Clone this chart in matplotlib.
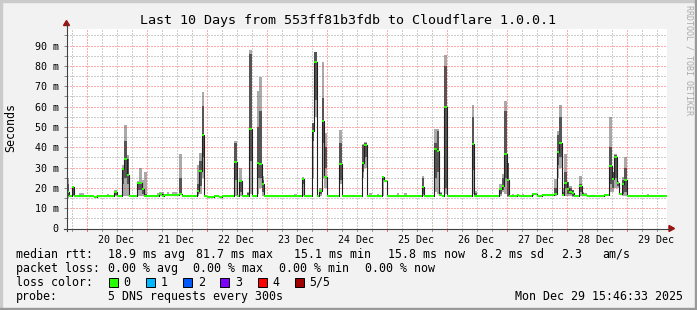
import numpy as np
import matplotlib
matplotlib.use("Agg")
import matplotlib.pyplot as plt
from matplotlib.lines import Line2D
from matplotlib.patches import Rectangle, Polygon
import matplotlib.transforms as mtransforms

# ---------------- data ----------------
title = "Last 10 Days from 553ff81b3fdb to Cloudflare 1.0.0.1"
# one value per hour, hour 0 = Dec 19 ~15:46, hour 8 = Dec 20 00:00
median_ms = [
    18.0, 16.0, 20.5, 16.0, 16.0, 16.1, 16.0, 15.9, 16.0, 16.0, 15.9, 15.4, 15.8, 16.0, 16.0, 16.0, 16.1, 16.0, 16.0, 18.0, 16.0, 16.0, 29.2, 34.0,
    26.2, 16.0, 16.0, 16.0, 22.6, 22.6, 19.5, 16.0, 16.0, 16.0, 16.0, 16.1, 16.0, 17.0, 16.0, 16.5, 16.5, 16.4, 16.5, 16.3, 16.5, 16.8, 16.0, 16.0,
    16.0, 16.0, 16.0, 16.0, 18.3, 28.3, 46.0, 15.8, 15.7, 15.7, 15.7, 15.8, 15.8, 15.7, 15.8, 15.8, 15.8, 15.8, 15.9, 32.8, 16.0, 23.3, 16.0, 16.0,
    16.0, 48.8, 16.0, 16.0, 32.3, 31.5, 21.8, 16.0, 16.0, 15.9, 15.8, 16.0, 15.9, 16.0, 16.0, 15.9, 16.0, 16.0, 16.0, 16.0, 16.0, 16.0, 24.2, 16.0,
    16.0, 16.0, 48.0, 82.0, 16.0, 18.3, 52.8, 25.4, 16.0, 16.0, 16.0, 16.0, 16.0, 31.6, 16.0, 16.0, 15.8, 15.8, 16.0, 16.0, 16.0, 16.0, 32.3, 41.3,
    16.0, 16.0, 16.0, 16.0, 16.0, 16.0, 25.4, 23.3, 16.0, 16.0, 16.0, 16.0, 16.0, 15.9, 16.0, 16.0, 16.0, 16.0, 16.0, 16.0, 16.0, 16.0, 20.2, 16.0,
    16.0, 16.0, 16.0, 39.3, 38.2, 16.7, 16.0, 59.7, 16.0, 16.0, 16.0, 15.9, 16.0, 16.0, 16.0, 16.0, 16.0, 16.0, 41.5, 16.0, 16.0, 16.0, 16.0, 16.0,
    16.0, 16.0, 16.0, 16.0, 16.0, 19.4, 21.0, 36.5, 24.0, 16.0, 16.0, 16.0, 16.5, 16.0, 16.0, 16.0, 16.0, 16.0, 17.0, 17.0, 16.0, 16.0, 16.5, 16.5,
    16.5, 16.5, 16.5, 17.0, 37.5, 42.3, 16.5, 22.6, 19.3, 18.0, 17.6, 16.0, 16.0, 20.9, 16.5, 16.5, 16.0, 16.0, 16.0, 16.0, 16.0, 16.0, 16.2, 16.5,
    16.5, 30.6, 24.4, 35.0, 22.6, 17.0, 21.9, 24.0, 16.0, 16.0, 15.9, 16.0, 16.0, 16.0, 16.0, 16.0, 16.0, 16.1, 16.0, 16.0, 16.0, 16.0, 16.0, 16.0,
]
# smoke (ping spread) for hours where it is visible: min, inner low, inner high, max
smoke_hours = [0, 2, 5, 6, 16, 19, 22, 23, 24, 28, 29, 30, 31, 36, 37, 38, 40, 42, 43, 45,
               52, 53, 54, 67, 69, 72, 73, 76, 77, 78, 91, 94, 98, 99, 101, 102, 103, 109,
               118, 119, 121, 124, 126, 132, 135, 142, 147, 148, 149, 151, 162, 163, 173,
               174, 175, 176, 178, 182, 186, 195, 196, 197, 198, 199, 200, 201, 202, 205,
               206, 207, 217, 218, 219, 220, 222, 223, 232]
smoke_lo = [15.0, 16.0, 15.8, 15.8, 15.8, 16.0, 16.0, 16.0, 16.0, 16.0, 16.0, 16.0, 15.8, 15.8, 16.0, 16.0, 16.0, 16.0, 16.0, 16.5,
            16.0, 17.0, 25.0, 16.0, 16.0, 16.0, 17.0, 17.0, 20.0, 16.0, 15.8, 16.0, 25.0, 55.0, 16.0, 25.0, 20.0, 22.0,
            25.0, 30.0, 15.8, 15.8, 16.0, 15.8, 15.8, 16.0, 18.0, 17.0, 16.0, 17.0, 17.0, 16.0, 16.0,
            18.0, 17.0, 15.5, 15.8, 15.8, 16.0, 16.0, 25.0, 30.0, 16.0, 16.0, 16.0, 16.0, 15.5, 16.0,
            16.0, 16.0, 18.0, 18.0, 20.0, 20.0, 16.0, 16.0, 15.8]
smoke_dlo = [16.0, 16.5, 16.0, 16.0, 16.0, 16.5, 22.0, 25.0, 22.0, 19.0, 19.0, 17.0, 16.0, 16.0, 16.5, 16.3, 16.3, 16.3, 16.3, 17.0,
             17.0, 21.0, 35.0, 24.0, 18.0, 16.5, 33.0, 25.0, 25.0, 18.0, 16.0, 22.0, 43.0, 63.0, 17.0, 42.0, 30.0, 24.0,
             28.0, 35.0, 16.0, 16.0, 24.0, 16.0, 16.0, 17.0, 25.0, 28.0, 16.5, 20.0, 29.0, 16.5, 17.0,
             19.0, 25.0, 16.0, 16.0, 16.0, 16.5, 16.5, 31.0, 35.0, 16.5, 20.0, 17.0, 17.0, 16.0, 18.0,
             16.5, 16.3, 22.0, 20.0, 25.0, 21.0, 17.0, 18.0, 16.0]
smoke_dhi = [22.0, 20.0, 16.5, 16.5, 16.5, 18.5, 30.0, 43.0, 34.0, 23.0, 23.0, 20.0, 17.0, 16.5, 17.5, 17.0, 17.0, 17.0, 17.0, 25.0,
             22.0, 33.0, 60.5, 42.0, 24.0, 17.5, 86.0, 50.0, 57.7, 24.0, 16.5, 24.5, 52.0, 87.0, 19.0, 64.0, 40.0, 42.0,
             41.0, 42.0, 16.5, 16.5, 25.5, 16.5, 16.5, 25.0, 42.0, 48.0, 17.5, 80.0, 55.0, 17.5, 20.0,
             25.0, 58.0, 32.0, 16.5, 16.5, 17.3, 20.0, 46.0, 55.0, 18.0, 28.0, 23.0, 20.0, 19.0, 22.0,
             17.5, 17.0, 40.0, 28.0, 36.0, 23.0, 24.0, 30.0, 16.5]
smoke_hi = [25.0, 21.0, 17.3, 17.3, 17.0, 19.0, 31.0, 51.0, 36.0, 23.5, 30.0, 24.0, 28.0, 17.5, 18.0, 18.0, 17.8, 17.8, 17.8, 36.5,
            31.0, 37.0, 67.0, 43.0, 30.0, 18.0, 88.0, 67.7, 74.3, 26.0, 17.0, 25.5, 52.0, 87.0, 20.0, 82.0, 47.0, 48.7,
            41.5, 42.6, 17.3, 17.0, 26.0, 17.5, 17.3, 26.0, 49.2, 49.0, 18.0, 85.5, 61.0, 18.5, 22.0,
            27.0, 62.6, 32.0, 17.0, 17.0, 17.5, 24.4, 48.0, 60.6, 20.0, 36.8, 23.0, 21.0, 19.0, 26.0,
            18.0, 17.5, 55.0, 28.0, 36.5, 23.5, 25.4, 35.0, 17.0]

day_labels = ["20 Dec", "21 Dec", "22 Dec", "23 Dec", "24 Dec", "25 Dec", "26 Dec", "27 Dec", "28 Dec", "29 Dec"]
first_midnight = 8          # hour index of Dec 20 00:00
hours_total = 240
y_max = 98.4
y_ticks = [0, 10, 20, 30, 40, 50, 60, 70, 80, 90]
y_tick_labels = ["0", "10 m", "20 m", "30 m", "40 m", "50 m", "60 m", "70 m", "80 m", "90 m"]

stats_rtt = ["18.9 ms avg", "81.7 ms max", "15.1 ms min", "15.8 ms now", "8.2 ms sd", "2.3", "am/s"]
stats_loss = ["0.00 % avg", "0.00 % max", "0.00 % min", "0.00 % now"]
loss_names = ["0", "1", "2", "3", "4", "5/5"]
loss_colors = ["#26ff00", "#00b8ff", "#0059ff", "#7e00ff", "#ff0000", "#a10000"]
probe_text = "5 DNS requests every 300s"
stamp_text = "Mon Dec 29 15:46:33 2025"

# ---------------- layout ----------------
W, H = 697, 310
MONO = "DejaVu Sans Mono"
X0, X1 = 66.5, 666.5       # plot area, pixels from left
YT, YB = 28.5, 228.5       # plot area, pixels from top

fig = plt.figure(figsize=(W / 100, H / 100), dpi=100, facecolor="#f2f2f2")


def fx(px):
    return px / W


def fy(py):
    return 1 - py / H


ax = fig.add_axes([fx(X0), fy(YB), (X1 - X0) / W, (YB - YT) / H])
ax.set_facecolor("white")
ax.set_xlim(0, hours_total)
ax.set_ylim(0, y_max)
for s in ax.spines.values():
    s.set_visible(False)

hrs = np.arange(hours_total + 1)
med = np.array(median_ms + [median_ms[-1]])

# smoke as step bars
ax.bar(smoke_hours, np.array(smoke_hi) - np.array(smoke_lo), bottom=smoke_lo, width=1.0,
       align="edge", color="#aaaaaa", linewidth=0, zorder=1)
ax.bar(smoke_hours, np.array(smoke_dhi) - np.array(smoke_dlo), bottom=smoke_dlo, width=1.0,
       align="edge", color="#555555", linewidth=0, zorder=1.2)

# dotted grid (over smoke, under the median line)
RED = (1, 0, 0, 0.33)
GRAY = (0.35, 0.35, 0.35, 0.3)
grid_hours = np.arange(first_midnight - 6, hours_total + 1, 6)
for h in grid_hours:
    col = RED if (h - first_midnight) % 24 == 0 else GRAY
    ax.axvline(h, color=col, lw=1.0, ls=(0, (1, 1)), zorder=2, antialiased=False)
for v in np.arange(5, 100, 5):
    col = RED if v % 10 == 0 else GRAY
    ax.axhline(v, color=col, lw=1.0, ls=(0, (1, 1)), zorder=2, antialiased=False)

# median: dark step line + loss-colored band
ax.plot(hrs, med, drawstyle="steps-post", color="#202020", lw=0.8, zorder=4)
ax.fill_between(hrs, med - 0.5, med + 0.5, step="post", color=loss_colors[0], linewidth=0, zorder=5)

# ticks
ax.set_yticks(y_ticks)
ax.set_yticklabels(y_tick_labels, fontfamily=MONO, fontsize=7.2)
ax.set_yticks(np.arange(5, 100, 10), minor=True)
ax.tick_params(axis="y", which="both", length=2, width=0.72, color="#888888", pad=3.6)
ax.set_xticks(np.arange(first_midnight + 12, hours_total, 24))
ax.set_xticklabels(day_labels, fontfamily=MONO, fontsize=7.2)
ax.tick_params(axis="x", which="major", length=0, pad=4.5)
tr = mtransforms.blended_transform_factory(ax.transData, ax.transAxes)
for h in grid_hours:
    col = "#ff6666" if (h - first_midnight) % 24 == 0 else "#999999"
    ax.plot([h, h], [-0.011, 0], transform=tr, color=col, lw=0.72, clip_on=False, zorder=6)

# axes with arrows
axis_col = "#404040"
fig.add_artist(Line2D([fx(X0), fx(X0)], [fy(YB + 2), fy(23)], color=axis_col, lw=0.8))
fig.add_artist(Line2D([fx(X0 - 3), fx(670)], [fy(YB), fy(YB)], color=axis_col, lw=0.8))
fig.add_artist(Polygon([[fx(X0 - 3), fy(25.5)], [fx(X0 + 3), fy(25.5)], [fx(X0), fy(20.5)]],
                       closed=True, color="#a01010", transform=fig.transFigure))
fig.add_artist(Polygon([[fx(669), fy(YB - 3)], [fx(669), fy(YB + 3)], [fx(674.5), fy(YB)]],
                       closed=True, color="#a01010", transform=fig.transFigure))

# frame shading
fig.add_artist(Rectangle((0, 0), fx(2), 1, color="#cbcbcb", transform=fig.transFigure))
fig.add_artist(Rectangle((0, fy(2)), 1, 2 / H, color="#cbcbcb", transform=fig.transFigure))
fig.add_artist(Rectangle((fx(W - 2), 0), fx(2), 1, color="#999999", transform=fig.transFigure))
fig.add_artist(Rectangle((0, 0), 1, 2 / H, color="#999999", transform=fig.transFigure))

# texts
fig.text(fx(348.5), fy(24), title, fontfamily=MONO, fontsize=9.6, ha="center", va="baseline")
fig.text(fx(11), fy(127), "Seconds", fontfamily=MONO, fontsize=8.4, rotation=90, ha="center", va="center")
fig.text(fx(689.5), fy(5), "RRDTOOL / TOBI OETIKER", fontfamily=MONO, fontsize=6, rotation=270,
         ha="center", va="top", color="#aaaaaa")

LS = 8.4
rows_y = [257.7, 271.7, 285.7, 299.7]
fig.text(fx(16), fy(rows_y[0]), "median rtt:", fontfamily=MONO, fontsize=LS, va="baseline")
for xp, s in zip([108, 196, 294, 388, 481, 560.7, 602.7], stats_rtt):
    fig.text(fx(xp), fy(rows_y[0]), s, fontfamily=MONO, fontsize=LS, va="baseline")
fig.text(fx(16), fy(rows_y[1]), "packet loss:", fontfamily=MONO, fontsize=LS, va="baseline")
for xp, s in zip([108, 193, 279, 365], stats_loss):
    fig.text(fx(xp), fy(rows_y[1]), s, fontfamily=MONO, fontsize=LS, va="baseline")
fig.text(fx(16), fy(rows_y[2]), "loss color:", fontfamily=MONO, fontsize=LS, va="baseline")
for xb, xt, name, col in zip([108.5, 146, 183, 220, 257.6, 294.6], [123.7, 160.7, 197.8, 235, 272, 309],
                             loss_names, loss_colors):
    fig.add_artist(Rectangle((fx(xb), fy(286.5)), 9 / W, 9 / H, facecolor=col, edgecolor="black",
                             linewidth=0.7, transform=fig.transFigure))
    fig.text(fx(xt), fy(rows_y[2]), name, fontfamily=MONO, fontsize=LS, va="baseline")
fig.text(fx(16), fy(rows_y[3]), "probe:", fontfamily=MONO, fontsize=LS, va="baseline")
fig.text(fx(108), fy(rows_y[3]), probe_text, fontfamily=MONO, fontsize=LS, va="baseline")
fig.text(fx(683), fy(rows_y[3]), stamp_text, fontfamily=MONO, fontsize=LS, va="baseline", ha="right")

fig.savefig("out.png", dpi=100, facecolor=fig.get_facecolor())
